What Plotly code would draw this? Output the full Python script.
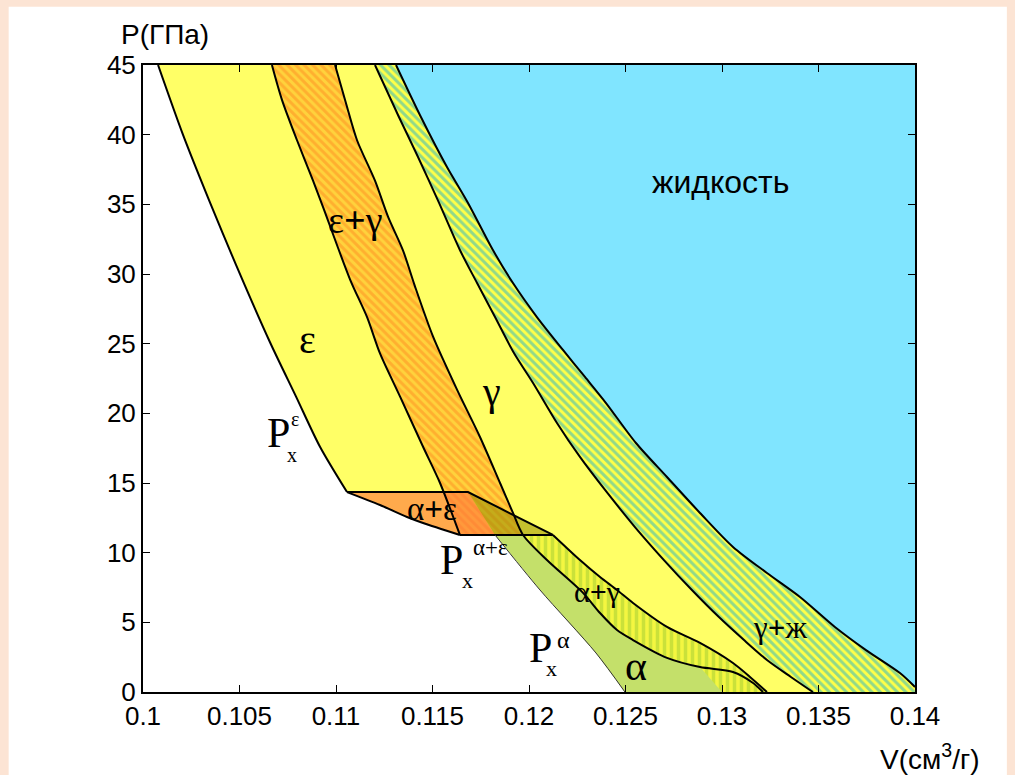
import plotly.graph_objects as go

# ---------------- data ----------------
# left boundary of epsilon (P_x^eps curve)
V_eps_left = [0.10078, 0.10207, 0.10342, 0.10482, 0.10658, 0.10793, 0.10917, 0.11057]
P_eps_left = [45.0, 40.0, 35.3, 30.65, 25.1, 21.2, 17.6, 14.35]

# eps | eps+gamma boundary
V_eg_left = [0.10668, 0.10720, 0.10798, 0.10881, 0.10933, 0.11073, 0.11161, 0.11228,
             0.11332, 0.11451, 0.11539, 0.11642]
P_eg_left = [45.0, 42.5, 39.6, 36.7, 34.8, 29.6, 26.9, 24.3, 21.2, 17.6, 15.0, 11.27]

# eps+gamma | gamma boundary
V_eg_right = [0.10995, 0.11057, 0.11109, 0.11202, 0.11270, 0.11347, 0.11407, 0.11503,
              0.11627, 0.11746, 0.11850, 0.11917, 0.11969]
P_eg_right = [45.0, 42.0, 39.6, 36.7, 34.1, 31.7, 29.2, 25.5, 21.7, 18.3, 15.0, 12.85, 11.27]

# alpha | alpha+gamma boundary
V_a_right = [0.11969, 0.12093, 0.12280, 0.12368, 0.12456, 0.12539, 0.12715, 0.12886,
             0.13057, 0.13161, 0.13212]
P_a_right = [11.27, 9.47, 7.11, 5.67, 4.45, 3.73, 2.45, 1.79, 1.44, 0.65, 0.0]

# lower-left corner of the alpha+gamma hatch at the V axis
V_ag_corner = [0.13000]
P_ag_corner = [0.0]

# alpha+gamma | gamma boundary
V_ag_right = [0.12124, 0.12264, 0.12368, 0.12456, 0.12539, 0.12715, 0.12886, 0.13057,
              0.13145, 0.13233]
P_ag_right = [11.27, 9.47, 8.25, 7.32, 6.39, 4.67, 3.52, 2.08, 1.08, 0.0]

# gamma | gamma+liquid boundary
V_gl_left = [0.11202, 0.11326, 0.11425, 0.11534, 0.11642, 0.11731, 0.11824, 0.11922,
             0.12021, 0.12145, 0.12264, 0.12394, 0.12549, 0.12699, 0.12844, 0.12984,
             0.13114, 0.13233, 0.13357, 0.13471]
P_gl_left = [45.0, 41.27, 38.40, 35.10, 31.72, 29.35, 26.91, 24.33, 22.18, 19.31, 16.87,
             14.50, 11.84, 9.47, 7.32, 5.38, 3.73, 2.30, 1.08, 0.0]

# gamma+liquid | liquid boundary
V_liq = [0.11311, 0.11440, 0.11575, 0.11684, 0.11813, 0.11917, 0.12041, 0.12176, 0.12290,
         0.12399, 0.12554, 0.12715, 0.12886, 0.13057, 0.13233, 0.13404, 0.13585, 0.13746,
         0.13922, 0.14000]
P_liq = [45.0, 41.27, 37.68, 35.10, 31.72, 29.35, 26.91, 24.55, 22.61, 20.74, 17.87, 15.43,
         12.85, 10.41, 8.54, 6.82, 4.67, 3.01, 1.36, 0.36]

# lower boundary of alpha+eps (P_x^{alpha+eps})
V_ae_bot = [0.11057, 0.11228, 0.11368, 0.11451, 0.11642]
P_ae_bot = [14.35, 13.42, 12.56, 12.13, 11.27]

# three-phase triangle
V_tri = [0.11684, 0.12124, 0.11824]
P_tri = [14.35, 11.27, 11.27]

# left boundary of alpha (P_x^alpha)
V_xa = [0.11824, 0.12057, 0.12347, 0.12497]
P_xa = [11.27, 7.32, 2.80, 0.0]

V_min, V_max = 0.1, 0.14
P_min, P_max = 0.0, 45.0
x_ticks = [0.1, 0.105, 0.11, 0.115, 0.12, 0.125, 0.13, 0.135, 0.14]
x_ticktext = ["0.1", "0.105", "0.11", "0.115", "0.12", "0.125", "0.13", "0.135", "0.14"]
y_ticks = [0, 5, 10, 15, 20, 25, 30, 35, 40, 45]
y_ticktext = ["0", "5", "10", "15", "20", "25", "30", "35", "40", "45"]

# ---------------- colours ----------------
YELLOW = "#ffff66"
CYAN = "#80e5ff"
GREEN = "#c4e06a"
BLACK = "black"

fig = go.Figure()


def poly(xs, ys, color=None, pattern=None):
    kw = dict(x=xs + [xs[0]], y=ys + [ys[0]], mode="lines", line=dict(width=0),
              fill="toself", hoverinfo="skip", showlegend=False)
    if pattern is not None:
        kw["fillpattern"] = pattern
        kw["fillcolor"] = pattern["bgcolor"]
    else:
        kw["fillcolor"] = color
    fig.add_trace(go.Scatter(**kw))


def line(xs, ys, width=2, color=BLACK, smooth=True):
    ln = dict(color=color, width=width)
    if smooth:
        ln.update(shape="spline", smoothing=0.8)
    fig.add_trace(go.Scatter(x=xs, y=ys, mode="lines", line=ln,
                             hoverinfo="skip", showlegend=False))


# liquid
poly(V_liq + [V_max], P_liq + [P_max], CYAN)
# gamma + liquid (hatched)
poly(V_gl_left + [V_max] + V_liq[::-1], P_gl_left + [P_min] + P_liq[::-1],
     pattern=dict(shape="\\", bgcolor="#ffff48", fgcolor="#22b2cc", size=6, solidity=0.5))
# yellow base: eps, gamma
poly(V_eps_left + V_ae_bot + [V_tri[1]] + V_ag_right + V_gl_left[::-1],
     P_eps_left + P_ae_bot + [P_tri[1]] + P_ag_right + P_gl_left[::-1], YELLOW)
# alpha (green)
poly(V_xa + V_a_right[::-1], P_xa + P_a_right[::-1], GREEN)
# alpha + gamma (hatched)
poly(V_ag_right + V_ag_corner + V_a_right[-4::-1],
     P_ag_right + P_ag_corner + P_a_right[-4::-1],
     pattern=dict(shape="|", bgcolor="#f4f640", fgcolor="#a0cc34", size=7, solidity=0.5))
# eps + gamma (hatched)
poly(V_eg_left + V_eg_right[::-1], P_eg_left + P_eg_right[::-1],
     pattern=dict(shape="\\", bgcolor="#ffd23c", fgcolor="#ff8c22", size=6, solidity=0.5))
# alpha + eps (semi-transparent orange)
poly([V_eps_left[-1], V_tri[0], V_tri[2]] + V_ae_bot[::-1],
     [P_eps_left[-1], P_tri[0], P_tri[2]] + P_ae_bot[::-1], "rgba(255,118,60,0.62)")
# three-phase triangle (olive tint)
poly(V_tri, P_tri, "rgba(150,140,0,0.55)")

# boundaries
line(V_eps_left, P_eps_left)
line(V_eg_left, P_eg_left)
line(V_eg_right + V_a_right[1:], P_eg_right + P_a_right[1:])
line(V_ag_right, P_ag_right)
line(V_gl_left, P_gl_left)
line(V_liq, P_liq)
line(V_ae_bot, P_ae_bot)
line([V_eps_left[-1], V_tri[0], V_tri[1]], [P_eps_left[-1], P_tri[0], P_tri[1]], smooth=False)
line([V_ae_bot[-1], V_tri[1]], [P_ae_bot[-1], P_tri[1]], smooth=False)
line(V_xa, P_xa, width=1, color="#333333")

# ---------------- labels ----------------
SERIF = "Liberation Serif, Times New Roman, serif"
SANS = "Liberation Sans, Arial, sans-serif"


def label(x, y, text, size, family=SERIF):
    fig.add_annotation(x=x, y=y, text=text, showarrow=False, xanchor="center", yanchor="middle",
                       font=dict(family=family, size=size, color="black"))


label(0.10850, 25.3, "ε", 40)
label(0.11098, 33.9, "ε<b>+</b>γ", 38)
label(0.11808, 21.6, "γ", 40)
label(0.12990, 36.6, "жидкость", 32, SANS)
label(0.11497, 13.1, "α<b>+</b>ε", 33)
label(0.12352, 7.2, "α<b>+</b>γ", 30)
label(0.12554, 1.9, "α", 42)
label(0.13300, 4.6, "γ<b>+</b>ж", 31)

# P_x^eps
label(0.10700, 18.6, "P", 42)
label(0.10770, 17.0, "x", 20)
label(0.10785, 19.6, "ε", 20)
# P_x^{alpha+eps}
label(0.11601, 9.45, "P", 42)
label(0.11680, 8.0, "x", 22)
label(0.11800, 10.4, "α+ε", 23)
# P_x^alpha
label(0.12057, 3.15, "P", 42)
label(0.12117, 1.7, "x", 22)
label(0.12180, 3.7, "α", 24)

# axis titles
fig.add_annotation(xref="paper", yref="paper", x=0.0285, y=1.048, text="P(ГПа)", showarrow=False,
                   xanchor="center", yanchor="middle", font=dict(family=SANS, size=28, color="black"))
fig.add_annotation(xref="paper", yref="paper", x=1.0194, y=-0.1037, text="V(см<sup>3</sup>/г)",
                   showarrow=False, xanchor="center", yanchor="middle",
                   font=dict(family=SANS, size=28, color="black"))

# white panel over peach frame
fig.add_shape(type="rect", xref="paper", yref="paper", x0=-0.174, x1=1.119, y0=-0.16, y1=1.093,
              fillcolor="white", line=dict(width=0), layer="below")

axis_common = dict(showgrid=False, zeroline=False, showline=True, linecolor="black", linewidth=2,
                   mirror="ticks", ticks="inside", ticklen=7, tickwidth=1, tickcolor="black",
                   tickfont=dict(family=SANS, size=26, color="black"))
fig.update_xaxes(range=[V_min, V_max], tickvals=x_ticks, ticktext=x_ticktext, **axis_common)
fig.update_yaxes(range=[P_min, P_max], tickvals=y_ticks, ticktext=y_ticktext, **axis_common)

fig.update_layout(width=1015, height=775, margin=dict(l=143, r=100, t=65, b=83),
                  paper_bgcolor="#fce4d4", plot_bgcolor="white", showlegend=False)

fig.write_html("out.html")
